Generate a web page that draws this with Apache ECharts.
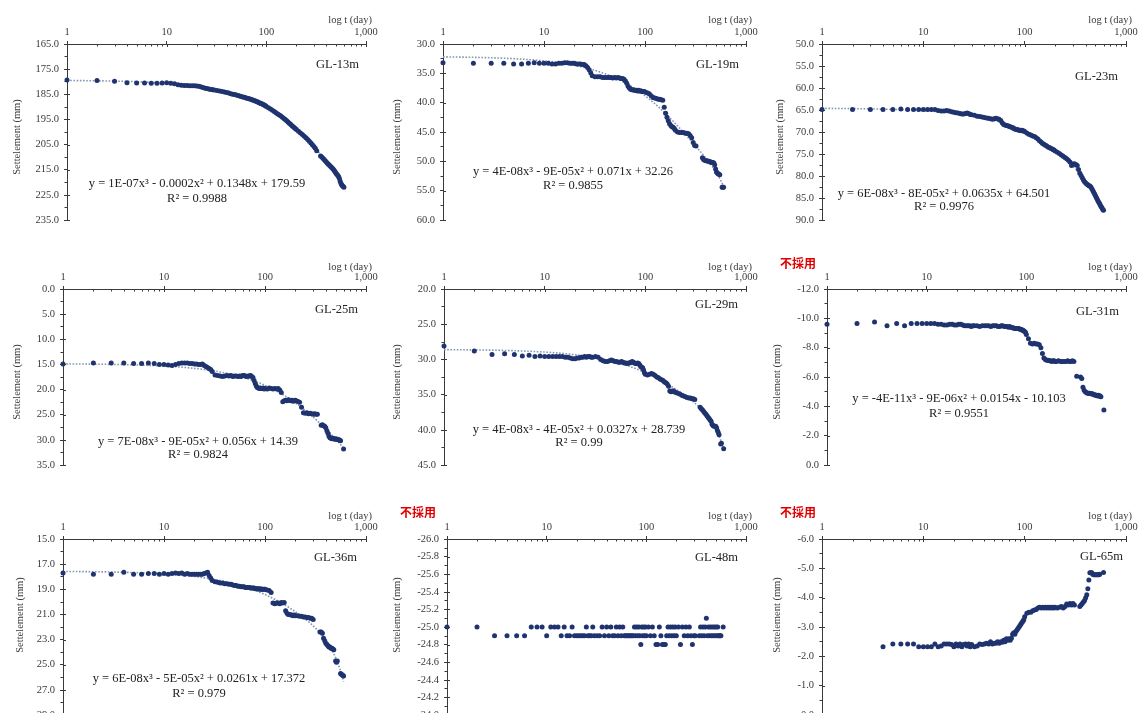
<!DOCTYPE html>
<html>
<head>
<meta charset="utf-8">
<title>Settlement vs log time</title>
<script src="https://cdn.jsdelivr.net/npm/echarts@6/dist/echarts.min.js"></script>
<style>
  html, body { margin: 0; padding: 0; background: #ffffff; }
  #chart { width: 1142px; height: 713px; }
</style>
</head>
<body>
<div id="chart"></div>
<script>
// Observation days (daily at first, then every few days)
const DAYS = [
  1,2,3,4,5,6,7,8,9,10,11,12,13,14,15,16,17,18,19,20,21,22,23,24,25,26,27,28,29,30,
  32,34,36,38,40,42,44,46,48,50,52,54,56,58,60,62,64,66,68,70,72,74,76,78,80,82,84,86,88,90,92,94,96,98,100,
  105,110,115,120,125,130,135,140,145,150,155,160,165,170,175,180,185,190,195,200,
  210,220,230,240,250,260,270,280,290,300,310,320,330,340,350,360,370,380,390,400,
  410,420,430,440,450,460,470,480,490,500,510,520,530,540,550,560,570,580,590,600
];

// Tick positions on the log time axis
const MAJOR_T = [1, 10, 100, 1000];
const MINOR_T = [2,3,4,5,6,7,8,9,20,30,40,50,60,70,80,90,200,300,400,500,600,700,800,900];

// Settlement (mm) per gauge depth, one value per observation day (null = no reading)
const GL13 = [
  179.3,179.5,179.8,180.4,180.5,180.5,180.6,180.6,180.5,180.4,180.6,180.8,181.2,181.4,181.5,181.5,181.6,181.6,181.6,181.7,
  181.8,182.0,182.3,182.5,182.7,182.8,183.0,183.1,183.2,183.3,
  183.5,183.7,183.9,184.1,184.3,184.5,184.8,185.0,185.1,185.3,185.5,185.7,185.9,186.1,186.2,186.4,186.6,186.7,186.9,187.0,
  187.2,187.4,187.6,187.7,187.9,188.1,188.3,188.5,188.7,188.8,189.0,189.2,189.4,189.6,189.9,
  190.4,190.9,191.3,191.8,192.3,192.8,193.2,193.6,194.1,194.6,195.0,195.5,196.0,196.5,196.9,197.4,197.8,198.2,198.6,199.0,
  199.7,200.4,201.0,201.7,202.3,203.0,203.7,204.4,205.1,205.8,206.5,207.5,null,null,209.5,209.9,210.4,210.9,211.4,211.9,
  212.4,212.8,213.2,213.6,214.0,214.4,214.8,215.3,215.8,216.4,216.8,217.2,217.7,218.4,219.5,220.4,221.0,221.4,221.7,222.0
];
const GL19 = [
  33.2,33.3,33.3,33.3,33.4,33.4,33.3,33.2,33.3,33.3,33.3,33.4,33.4,33.3,33.3,33.2,33.2,33.3,33.3,33.3,
  33.4,33.4,33.4,33.5,33.5,33.7,34.0,34.4,34.9,35.4,
  35.6,35.6,35.6,35.7,35.7,35.7,35.7,35.7,35.8,35.7,35.8,35.7,35.8,35.9,35.9,36.0,36.3,36.7,37.2,37.5,
  37.7,37.8,37.8,37.9,37.9,37.9,38.0,37.9,38.0,38.0,38.0,38.1,38.1,38.1,38.2,
  38.3,38.5,38.8,39.1,39.2,39.3,39.4,39.4,39.5,39.6,40.8,41.8,42.5,43.1,43.6,43.9,44.1,44.2,44.4,44.7,
  45.0,45.1,45.1,45.1,45.2,45.2,45.3,45.6,46.0,46.8,47.3,47.4,null,null,null,null,49.4,49.7,49.8,49.9,
  49.9,50.0,50.0,50.1,50.1,50.2,50.2,50.3,50.6,51.3,51.8,52.0,52.1,52.2,52.3,null,null,54.4,54.4,54.4
];
const GL23 = [
  64.9,64.9,64.9,64.9,64.9,64.8,64.9,64.9,64.9,64.9,64.9,64.9,64.9,65.1,65.2,65.2,65.1,65.2,65.4,65.5,
  65.6,65.7,65.8,65.9,65.9,65.8,65.7,65.8,66.0,66.1,
  66.2,66.4,66.5,66.6,66.7,66.8,66.9,67.0,67.1,67.0,66.9,67.0,67.1,67.4,67.9,68.3,68.4,68.5,68.6,68.7,
  68.8,68.9,69.0,69.2,69.3,69.4,69.5,69.5,69.6,69.6,69.7,69.6,69.7,69.8,69.9,
  70.2,70.5,70.7,70.9,71.0,71.3,71.6,72.0,72.3,72.6,72.8,73.0,73.2,73.4,73.5,73.7,73.8,74.0,74.1,74.3,
  74.6,74.9,75.2,75.5,75.8,76.1,76.4,76.8,77.6,77.3,77.2,77.4,77.6,78.5,79.4,79.9,80.4,80.9,81.3,81.6,
  81.8,82.0,82.2,82.3,82.5,82.9,83.3,83.7,84.1,84.5,84.9,85.3,85.7,86.0,86.3,86.7,87.0,87.3,87.6,87.8
];
const GL25 = [
  14.9,14.7,14.7,14.7,14.8,14.8,14.7,14.8,15.0,15.0,15.1,15.2,15.0,14.8,14.7,14.7,14.7,14.8,14.8,14.9,
  14.9,15.0,15.0,14.9,15.2,15.4,15.6,15.8,16.0,16.4,
  17.1,17.2,17.3,17.4,17.3,17.2,17.3,17.2,17.4,17.3,17.3,17.4,17.3,17.4,17.2,17.2,17.3,17.4,17.3,17.3,
  17.2,17.4,17.6,18.2,18.8,19.3,19.6,19.7,19.8,19.7,19.8,19.8,19.7,19.9,19.8,
  19.9,19.7,19.8,19.9,19.8,19.9,19.8,20.1,20.6,22.4,22.2,22.1,22.2,22.0,22.1,22.2,22.1,22.3,22.2,22.1,
  22.3,22.5,23.5,24.6,24.7,24.6,24.8,24.7,24.8,24.9,24.8,24.9,24.9,null,null,27.1,27.0,27.2,27.3,27.6,
  28.2,28.7,29.3,29.6,29.7,29.8,29.7,29.8,29.9,29.8,29.9,29.9,30.0,30.0,30.1,30.2,null,null,null,31.8
];
const GL29 = [
  28.1,28.8,29.3,29.2,29.3,29.5,29.4,29.6,29.5,29.6,29.6,29.6,29.6,29.6,29.6,29.7,29.7,29.8,29.9,29.9,
  29.8,29.8,29.7,29.7,29.6,29.7,29.6,29.6,29.7,29.7,
  29.6,29.7,30.0,30.2,30.3,30.3,30.2,30.1,30.2,30.3,30.3,30.4,30.4,30.3,30.4,30.5,30.5,30.6,30.5,30.5,
  30.4,30.3,30.4,30.5,30.6,30.6,30.5,30.6,30.8,31.0,31.1,31.2,31.5,31.9,32.1,
  32.2,32.1,32.0,32.1,32.3,32.5,32.6,32.8,32.9,33.0,33.2,33.3,33.5,33.8,34.5,34.6,34.5,34.5,34.6,34.7,
  34.8,34.9,35.1,35.2,35.3,35.4,35.5,35.5,35.6,35.6,35.7,null,null,null,36.8,37.0,37.2,37.4,37.6,37.8,
  38.0,38.2,38.4,38.6,38.8,39.2,39.4,39.5,39.5,39.5,39.7,40.1,40.4,40.7,null,42.0,41.9,null,null,42.7
];
const GL31 = [
  -9.6,-9.65,-9.75,-9.5,-9.65,-9.5,-9.65,-9.65,-9.65,-9.65,-9.65,-9.65,-9.6,-9.6,-9.55,-9.55,-9.6,-9.6,-9.55,-9.55,
  -9.6,-9.6,-9.55,-9.5,-9.5,-9.5,-9.5,-9.45,-9.5,-9.5,
  -9.5,-9.45,-9.5,-9.5,-9.5,-9.5,-9.45,-9.5,-9.5,-9.5,-9.45,-9.45,-9.5,-9.5,-9.45,-9.45,-9.45,-9.4,-9.45,-9.4,
  -9.35,-9.35,-9.3,-9.3,-9.3,-9.3,-9.3,-9.25,-9.25,-9.2,-9.2,-9.15,-9.1,-9.05,-8.9,
  -8.6,-8.3,-8.25,-8.3,-8.25,-8.25,-8.2,-8.0,-7.6,-7.3,-7.2,-7.15,-7.15,-7.1,-7.1,-7.05,-7.1,-7.1,-7.05,-7.05,
  -7.1,-7.05,-7.05,-7.05,-7.05,-7.1,-7.05,-7.05,-7.1,-7.05,null,-6.05,null,null,-6.0,-5.9,-5.3,-5.1,-5.0,-4.95,
  -4.9,-4.9,-4.9,-4.85,-4.85,-4.85,-4.8,-4.8,-4.75,-4.75,-4.75,-4.7,-4.75,-4.7,-4.7,-4.65,null,null,null,-3.75
];
const GL36 = [
  17.7,17.8,17.8,17.65,17.8,17.8,17.75,17.75,17.8,17.75,17.8,17.75,17.7,17.75,17.7,17.8,17.75,17.8,17.8,17.8,
  17.8,17.8,17.8,17.8,17.75,17.7,17.65,17.9,18.1,18.3,
  18.4,18.45,18.5,18.5,18.55,18.55,18.6,18.6,18.65,18.7,18.7,18.75,18.75,18.8,18.8,18.8,18.85,18.85,18.85,18.85,
  18.9,18.9,18.9,18.9,18.95,18.95,18.95,18.95,19.0,18.95,19.0,19.0,19.0,19.0,19.0,
  19.05,19.1,19.25,20.1,20.15,20.1,20.1,20.15,20.05,20.1,20.05,20.7,20.9,21.0,21.0,21.05,21.05,21.1,21.05,21.1,
  21.1,21.15,21.15,21.2,21.2,21.25,21.25,21.3,21.3,21.4,null,null,null,null,22.4,22.4,22.5,22.9,23.1,23.3,
  23.4,23.5,23.6,23.6,23.7,23.7,23.75,23.8,null,24.7,24.8,24.7,null,null,null,25.7,25.75,25.8,25.85,25.9
];
const GL48 = [
  -25.0,-25.0,-24.9,-24.9,-24.9,-24.9,-25.0,-25.0,-25.0,-24.9,-25.0,-25.0,-25.0,-24.9,-25.0,-24.9,-24.9,-25.0,-24.9,-24.9,
  -24.9,-24.9,-24.9,-24.9,-25.0,-24.9,-24.9,-24.9,-25.0,-24.9,
  -24.9,-24.9,-25.0,-24.9,-25.0,-24.9,-25.0,-24.9,-24.9,-25.0,-24.9,-25.0,-24.9,-25.0,-24.9,-24.9,-24.9,-24.9,-24.9,-24.9,
  -24.9,-24.9,-25.0,-24.9,-25.0,-24.9,-25.0,-24.9,-24.8,-25.0,-24.9,-25.0,-24.9,-25.0,-24.9,
  -25.0,-24.9,-25.0,-24.9,-24.8,-24.8,-25.0,-24.9,-24.8,-24.8,-24.8,-24.9,-25.0,-24.9,-25.0,-24.9,-25.0,-24.9,-25.0,-24.9,
  -25.0,-24.8,-25.0,-24.9,-25.0,-24.9,-25.0,-24.9,-24.8,-24.9,-24.9,null,null,-24.9,-25.0,-24.9,-25.0,-24.9,-25.0,-25.1,
  -24.9,-25.0,-24.9,-25.0,-24.9,-25.0,-24.9,-25.0,-24.9,-25.0,-24.9,-25.0,-24.9,-24.9,-24.9,-24.9,null,null,-25.0,null
];
const GL65 = [
  null,null,null,-2.33,-2.42,-2.42,-2.42,-2.42,-2.33,-2.33,-2.33,-2.33,-2.42,-2.33,-2.35,-2.42,-2.42,-2.42,-2.4,-2.33,
  -2.42,-2.35,-2.42,-2.33,-2.4,-2.42,-2.35,-2.42,-2.33,-2.4,
  -2.33,-2.35,-2.42,-2.4,-2.42,-2.45,-2.42,-2.5,-2.42,-2.45,-2.45,-2.5,-2.45,-2.5,-2.48,-2.55,-2.5,-2.6,-2.55,-2.6,
  -2.55,-2.62,-2.75,-2.8,-2.75,-2.85,-2.9,-2.95,-3.0,-3.05,-3.1,-3.15,-3.2,-3.25,-3.35,
  -3.47,-3.5,-3.5,-3.55,-3.58,-3.6,-3.65,-3.67,-3.65,-3.67,-3.65,-3.67,-3.65,-3.67,-3.65,-3.67,-3.65,-3.67,-3.65,-3.67,
  -3.65,-3.67,-3.7,-3.65,-3.7,-3.78,-3.75,-3.8,-3.75,-3.8,-3.75,null,null,null,-3.7,-3.75,-3.8,-3.85,-3.9,-4.0,
  -4.1,-4.3,-4.6,-4.85,-4.85,-4.85,-4.8,-4.78,-4.78,-4.78,-4.78,-4.78,-4.78,-4.78,-4.8,null,null,null,null,-4.86
];

const SERIES_VALUES = [GL13, GL19, GL23, GL25, GL29, GL31, GL36, GL48, GL65];
const PANEL_NAMES = ['GL-13m', 'GL-19m', 'GL-23m', 'GL-25m', 'GL-29m', 'GL-31m', 'GL-36m', 'GL-48m', 'GL-65m'];

// Settlement axis range per panel: [min, max, step]
const Y_RANGES = [
  [165, 235, 10], [30, 60, 5], [50, 90, 5],
  [0, 35, 5], [20, 45, 5], [-12, 0, 2],
  [15, 29, 2], [-26, -24, 0.2], [-6, 0, 1]
];

// Polynomial trendline labels
const EQUATIONS = [
  'y = 1E-07x³ - 0.0002x² + 0.1348x + 179.59',
  'y = 4E-08x³ - 9E-05x² + 0.071x + 32.26',
  'y = 6E-08x³ - 8E-05x² + 0.0635x + 64.501',
  'y = 7E-08x³ - 9E-05x² + 0.056x + 14.39',
  'y = 4E-08x³ - 4E-05x² + 0.0327x + 28.739',
  'y = -4E-11x³ - 9E-06x² + 0.0154x - 10.103',
  'y = 6E-08x³ - 5E-05x² + 0.0261x + 17.372',
  null, null
];
const R_SQUARED = ['R² = 0.9988', 'R² = 0.9855', 'R² = 0.9976', 'R² = 0.9824', 'R² = 0.99', 'R² = 0.9551', 'R² = 0.979', null, null];
const SHOW_TREND = [true, true, true, true, true, false, true, false, false];
const REJECTED = [false, false, false, false, false, true, false, true, true];
const REJECTED_TEXT = '不採用';
const X_NAME = 'log t (day)';
const Y_NAME = 'Settelement (mm)';

// Panel placement (pixels)
const LAYOUT = [
  { left: 67,  top: 44,  width: 299, xName: [372, 20],   tag: [316, 65],   eq: [197, 184], r2: 199, yName: [17, 137] },
  { left: 443, top: 44,  width: 303, xName: [752, 20],   tag: [696, 65],   eq: [573, 172], r2: 186, yName: [397, 137] },
  { left: 822, top: 44,  width: 304, xName: [1132, 20],  tag: [1075, 77],  eq: [944, 194], r2: 207, yName: [780, 137] },
  { left: 63,  top: 289, width: 303, xName: [372, 267],  tag: [315, 310],  eq: [198, 442], r2: 455, yName: [17, 382] },
  { left: 444, top: 289, width: 302, xName: [752, 267],  tag: [695, 305],  eq: [579, 430], r2: 443, yName: [397, 382] },
  { left: 827, top: 289, width: 299, xName: [1132, 267], tag: [1076, 312], eq: [959, 399], r2: 414, yName: [777, 382], rej: [780, 263] },
  { left: 63,  top: 539, width: 303, xName: [372, 516],  tag: [314, 558],  eq: [199, 679], r2: 694, yName: [20, 615] },
  { left: 447, top: 539, width: 299, xName: [752, 516],  tag: [695, 558],  yName: [397, 615], rej: [400, 512] },
  { left: 822, top: 539, width: 304, xName: [1132, 516], tag: [1080, 557], yName: [777, 615], rej: [780, 512] }
];
const PLOT_HEIGHT = 176;

const SERIF = '"Liberation Serif", "Times New Roman", serif';
const INK = '#3a3a3a';
const DOT = '#1f336f';
const TREND = '#8497b0';

// Weighted least-squares cubic in t (weights = day spacing, so the sparse
// sampling counts like daily readings), evaluated on the observation days.
function cubicTrend(points) {
  const M = [[0,0,0,0,0],[0,0,0,0,0],[0,0,0,0,0],[0,0,0,0,0]];
  let prev = 0;
  points.forEach(([t, v]) => {
    const w = t - prev; prev = t;
    const u = t / 100;
    const p = [1, u, u * u, u * u * u];
    for (let r = 0; r < 4; r++) {
      for (let c = 0; c < 4; c++) M[r][c] += w * p[r] * p[c];
      M[r][4] += w * p[r] * v;
    }
  });
  for (let c = 0; c < 4; c++) {
    let piv = c;
    for (let r = c + 1; r < 4; r++) if (Math.abs(M[r][c]) > Math.abs(M[piv][c])) piv = r;
    const tmp = M[c]; M[c] = M[piv]; M[piv] = tmp;
    for (let r = 0; r < 4; r++) {
      if (r === c) continue;
      const f = M[r][c] / M[c][c];
      for (let k = c; k < 5; k++) M[r][k] -= f * M[c][k];
    }
  }
  const k = M.map((row, i) => row[4] / row[i]);
  const lastDay = points[points.length - 1][0];
  return DAYS.filter(d => d <= lastDay).map(d => {
    const u = d / 100;
    return [d, k[0] + k[1] * u + k[2] * u * u + k[3] * u * u * u];
  });
}

const grids = [], xAxes = [], yAxes = [], series = [], graphics = [];

PANEL_NAMES.forEach((tagText, i) => {
  const L = LAYOUT[i];
  const [yMin, yMax, yStep] = Y_RANGES[i];

  grids.push({
    left: L.left, top: L.top, width: L.width, height: PLOT_HEIGHT,
    containLabel: false, outerBoundsMode: 'none'
  });

  xAxes.push({
    type: 'log', logBase: 10, min: 1, max: 1000, gridIndex: i, position: 'top',
    axisLine: { show: true, onZero: false, lineStyle: { color: INK, width: 1 } },
    axisTick: { show: true, inside: false, length: 3, lineStyle: { color: INK } },
    axisLabel: {
      margin: 6, color: INK, fontFamily: SERIF, fontSize: 10.5,
      formatter: v => Number(v).toLocaleString('en-US')
    },
    splitLine: { show: false }
  });

  yAxes.push({
    type: 'value', gridIndex: i, inverse: true, min: yMin, max: yMax, interval: yStep,
    axisLine: { show: true, onZero: false, lineStyle: { color: INK, width: 1 } },
    axisTick: { show: true, length: 3, lineStyle: { color: INK } },
    minorTick: { show: true, splitNumber: 2, length: 2.5, lineStyle: { color: INK } },
    axisLabel: {
      margin: 8, color: INK, fontFamily: SERIF, fontSize: 10.5,
      formatter: v => Number(v).toFixed(1)
    },
    splitLine: { show: false }
  });

  const points = [];
  DAYS.forEach((d, k) => {
    const v = SERIES_VALUES[i][k];
    if (v !== null && v !== undefined) points.push([d, v]);
  });

  if (SHOW_TREND[i]) {
    series.push({
      type: 'line', name: tagText + ' trend', xAxisIndex: i, yAxisIndex: i,
      data: cubicTrend(points), symbol: 'none', smooth: false, silent: true, z: 2,
      lineStyle: { type: 'dotted', width: 1.6, color: TREND }
    });
  }

  series.push({
    type: 'scatter', name: tagText, xAxisIndex: i, yAxisIndex: i,
    data: points, symbol: 'circle', symbolSize: 5, z: 3,
    itemStyle: { color: DOT, opacity: 1 }
  });

  // Tick marks drawn inside the plot: the lower half of the crossing major
  // ticks, minor ticks 2..9 of each decade on the log axis, and the right
  // half of the crossing ticks on the settlement axis.
  const tickMarks = [];
  MAJOR_T.forEach(t => tickMarks.push([t, yMin, 0]));
  MINOR_T.forEach(t => tickMarks.push([t, yMin, 1]));
  const nSteps = Math.round((yMax - yMin) / yStep);
  for (let s = 0; s <= nSteps; s++) tickMarks.push([1, yMin + s * yStep, 2]);
  series.push({
    type: 'custom', xAxisIndex: i, yAxisIndex: i, silent: true, clip: false, z: 4,
    data: tickMarks,
    renderItem: (params, api) => {
      const p = api.coord([api.value(0), api.value(1)]);
      const kind = api.value(2);
      let shape;
      if (kind === 2) {
        const y = Math.round(p[1]) + 0.5;
        shape = { x1: p[0], y1: y, x2: p[0] + 3, y2: y };
      } else {
        const x = Math.round(p[0]) + 0.5;
        shape = { x1: x, y1: p[1], x2: x, y2: p[1] + (kind === 0 ? 3 : 2.5) };
      }
      return { type: 'line', shape: shape, style: { stroke: INK, lineWidth: 1 } };
    }
  });

  graphics.push({
    type: 'text', x: L.xName[0], y: L.xName[1], silent: true,
    style: { text: X_NAME, fill: INK, font: '10.5px ' + SERIF, align: 'right', verticalAlign: 'middle' }
  });
  graphics.push({
    type: 'text', x: L.tag[0], y: L.tag[1], silent: true,
    style: { text: tagText, fill: '#222', font: '12.5px ' + SERIF, align: 'left', verticalAlign: 'middle' }
  });
  graphics.push({
    type: 'text', x: L.yName[0], y: L.yName[1], rotation: Math.PI / 2, silent: true,
    style: { text: Y_NAME, fill: INK, font: '10.5px ' + SERIF, align: 'center', verticalAlign: 'middle' }
  });
  if (EQUATIONS[i]) {
    graphics.push({
      type: 'text', x: L.eq[0], y: L.eq[1], silent: true,
      style: { text: EQUATIONS[i], fill: '#222', font: '12.5px ' + SERIF, align: 'center', verticalAlign: 'middle' }
    });
    graphics.push({
      type: 'text', x: L.eq[0], y: L.r2, silent: true,
      style: { text: R_SQUARED[i], fill: '#222', font: '12.5px ' + SERIF, align: 'center', verticalAlign: 'middle' }
    });
  }
  if (REJECTED[i]) {
    graphics.push({
      type: 'text', x: L.rej[0], y: L.rej[1], silent: true,
      style: { text: REJECTED_TEXT, fill: '#e00000', font: 'bold 12px "Noto Sans CJK JP", sans-serif', align: 'left', verticalAlign: 'middle' }
    });
  }
});

const chart = echarts.init(document.getElementById('chart'), null, { renderer: 'canvas' });
chart.setOption({
  backgroundColor: '#ffffff',
  animation: false,
  grid: grids,
  xAxis: xAxes,
  yAxis: yAxes,
  series: series,
  graphic: graphics
});
</script>
</body>
</html>
